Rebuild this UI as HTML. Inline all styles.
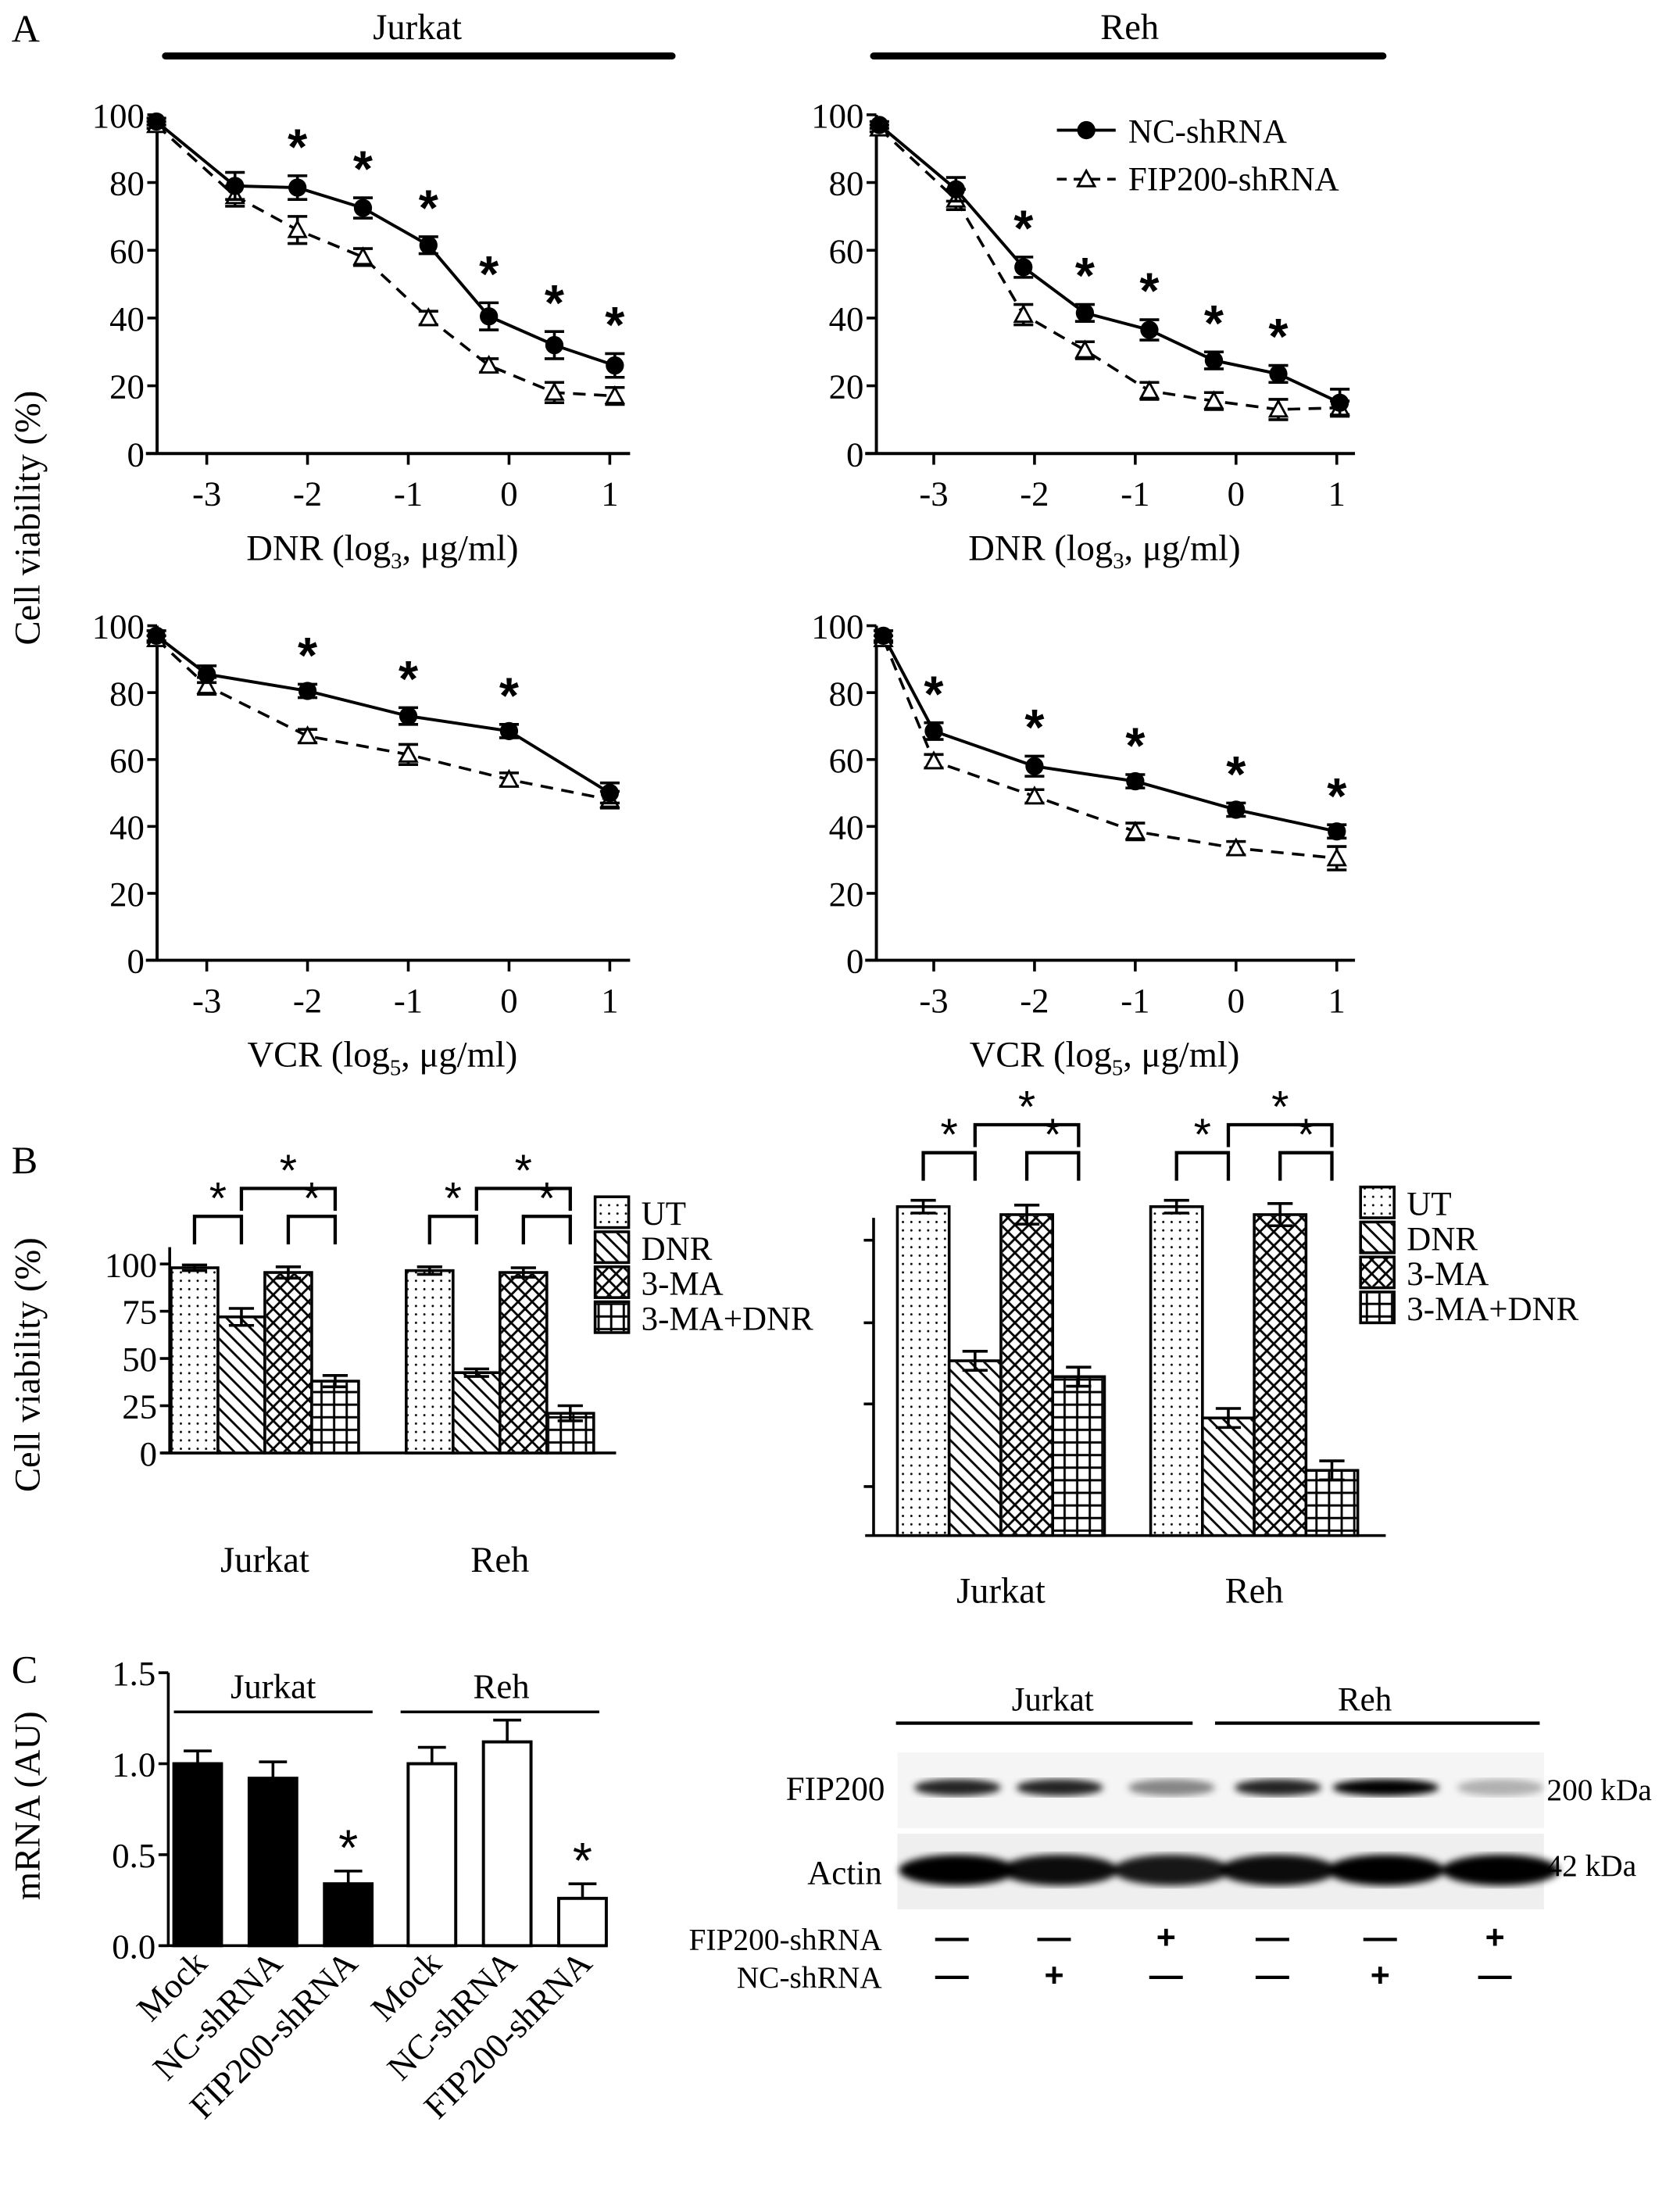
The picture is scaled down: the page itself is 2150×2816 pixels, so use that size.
<!DOCTYPE html>
<html><head><meta charset="utf-8">
<style>
html,body{margin:0;padding:0;background:#fff;}
svg{display:block;font-family:"Liberation Serif",serif;}
</style></head>
<body>
<svg id="fig" width="2150" height="2816" viewBox="0 0 1200 1572.4" xmlns="http://www.w3.org/2000/svg" font-family="Liberation Serif, serif">
<defs>
<pattern id="p-dots" width="6" height="6" patternUnits="userSpaceOnUse"><circle cx="3" cy="3" r="0.8" fill="#000"/></pattern>
<pattern id="p-diag" width="10" height="10" patternUnits="userSpaceOnUse"><path d="M-2,-2 L12,12 M-2,8 L2,12 M8,-2 L12,2" stroke="#000" stroke-width="1.6"/></pattern>
<pattern id="p-cross" width="10" height="10" patternUnits="userSpaceOnUse"><path d="M0,0 L10,10 M10,0 L0,10" stroke="#000" stroke-width="1.6"/></pattern>
<pattern id="p-grid" width="9" height="9" patternUnits="userSpaceOnUse"><path d="M4.5,0 V9 M0,4.5 H9" stroke="#000" stroke-width="1.6"/></pattern>
<filter id="blur"><feGaussianBlur stdDeviation="2.5"/></filter>
</defs>
<g id="root"></g>
</svg>
<script>
// ---------- Panel A data ----------
const aTLx = [-3.5,-2.72,-2.1,-1.45,-0.8,-0.2,0.45,1.05];
const aTLnc = [98,79,78.5,72.5,61.5,40.5,32,26];
const aTLncErr = [1,4,3.5,3,2.5,4,4,3.5];
const aTLfip = [97,76,66,58,40,26,18,17];
const aTLfipErr = [1,3,4,2.5,2,2,3,2.5];
const aTLstars = [2,3,4,5,6,7];

const aTRx = [-3.54,-2.78,-2.11,-1.5,-0.86,-0.22,0.42,1.03];
const aTRnc = [97,78,55,41.5,36.5,27.5,23.5,15];
const aTRncErr = [1,3.5,3,2.5,3,2.5,2.5,4];
const aTRfip = [96,75,41,30.5,18.5,15.5,13,13.5];
const aTRfipErr = [1,3,3,2.5,2.5,2.5,3,2];
const aTRstars = [2,3,4,5,6];

const aBLx = [-3.5,-3,-2,-1,0,1];
const aBLnc = [97,85.5,80.5,73,68.5,50];
const aBLncErr = [1.5,2.5,2,2.5,2,3];
const aBLfip = [96,82,67,61.5,54,48];
const aBLfipErr = [1,2.5,2,3,2,2.5];
const aBLstars = [2,3,4];

const aBRx = [-3.5,-3,-2,-1,0,1];
const aBRnc = [97,68.5,58,53.5,45,38.5];
const aBRncErr = [1.5,2.5,3,2,2,2];
const aBRfip = [96,59.5,49,38.5,33.5,30.5];
const aBRfipErr = [1,2,2,2.5,2,3.5];
const aBRstars = [1,2,3,4,5];

const aYTicks = [0,20,40,60,80,100];
const aXTicks = [-3,-2,-1,0,1];

// ---------- Panel B data ----------
const bGroups = ["Jurkat","Reh"];
const bSeries = ["UT","DNR","3-MA","3-MA+DNR"];
const bLeftJurkat = [98,72,95.5,38];
const bLeftJurkatErr = [1.5,4.5,3,3];
const bLeftReh = [96.5,42.5,95.5,21];
const bLeftRehErr = [2,2,2.5,4];
const bRightJurkat = [103.5,55,101,50];
const bRightJurkatErr = [2,3,3,3];
const bRightReh = [103.5,37,101,20.5];
const bRightRehErr = [2,3,3.5,3];
const bYTicks = [0,25,50,75,100];
const bYTickLabels = ["0","25","50","75","100"];

// ---------- Panel C data ----------
const cLabels = ["Mock","NC-shRNA","FIP200-shRNA","Mock","NC-shRNA","FIP200-shRNA"];
const cValues = [1.0,0.92,0.34,1.0,1.12,0.26];
const cErr = [0.07,0.09,0.07,0.09,0.12,0.08];
const cYTicks = [0,0.5,1.0,1.5];
const cYTickLabels = ["0.0","0.5","1.0","1.5"];
const wbFip200 = [0.85,0.85,0.45,0.85,1.0,0.28];
const wbActin = [1,0.95,0.9,0.95,1,1];
const wbFipShrna = ["—","—","+","—","—","+"];
const wbNcShrna = ["—","+","—","—","+","—"];

const NS="http://www.w3.org/2000/svg";
const root=document.getElementById('root');
function mk(tag,attrs,parent){const e=document.createElementNS(NS,tag);for(const k in attrs)e.setAttribute(k,attrs[k]);(parent||root).appendChild(e);return e;}
function txt(s,x,y,size,anchor,parent,extra){const t=mk('text',Object.assign({x:x,y:y,'font-size':size,'text-anchor':anchor||'middle','font-family':'Liberation Serif, serif',fill:'#000'},extra||{}),parent);t.textContent=s;return t;}

// Panel headers
let g=mk('g',{});


let t=txt('A',8,30,28,'start',g);


t=txt('Jurkat',298,28,26,'middle',g);


mk('line',{x1:118,y1:40,x2:480,y2:40,stroke:'#000','stroke-width':5,'stroke-linecap':'round'},g);
t=txt('Reh',807,28,26,'middle',g);


mk('line',{x1:624,y1:40,x2:988,y2:40,stroke:'#000','stroke-width':5,'stroke-linecap':'round'},g);

t=txt('Cell viability (%)',0,0,26,'middle',root,{transform:'translate(28,370) rotate(-90)'});



function linePanel(name,ax,x0,xUnit,yAxisX,xEnd,y0,y100,xs,nc,ncE,fip,fipE,stars,xlabel,sub){
  const pg=mk('g',{});
  
  
  const X=v=>x0+(v+3)*xUnit;
  const Y=v=>y0-(y0-y100)*v/100;
  mk('line',{x1:yAxisX,y1:y100,x2:yAxisX,y2:y0,stroke:'#000','stroke-width':2.2},pg);
  mk('line',{x1:yAxisX-8,y1:y0,x2:xEnd,y2:y0,stroke:'#000','stroke-width':2.2},pg);
  aYTicks.forEach(v=>{mk('line',{x1:yAxisX-7,y1:Y(v),x2:yAxisX,y2:Y(v),stroke:'#000','stroke-width':2},pg);
    const tl=txt(String(v),yAxisX-9,Y(v)+9,25,'end',pg);
    
    });
  aXTicks.forEach(v=>{mk('line',{x1:X(v),y1:y0,x2:X(v),y2:y0+8,stroke:'#000','stroke-width':2},pg);
    const tl=txt(String(v),X(v),y0+37,25,'middle',pg);
    
    });
  const xt=mk('text',{x:(yAxisX+xEnd)/2-8,y:y0+76,'font-size':26,'text-anchor':'middle','font-family':'Liberation Serif, serif'},pg);
  
  
  xt.innerHTML=xlabel+' (log<tspan font-size="16" dy="6">'+sub+'</tspan><tspan dy="-6">, μg/ml)</tspan>';
  const ptsF=xs.map((x,i)=>X(x)+','+Y(fip[i])).join(' ');
  const lf=mk('polyline',{points:ptsF,fill:'none',stroke:'#000','stroke-width':2,'stroke-dasharray':'9,6'},pg);
  
  
  const ptsN=xs.map((x,i)=>X(x)+','+Y(nc[i])).join(' ');
  const ln=mk('polyline',{points:ptsN,fill:'none',stroke:'#000','stroke-width':2.2},pg);
  
  
  function eb(x,y,e){const a=Y(y+e),b=Y(y-e);mk('line',{x1:X(x),y1:a,x2:X(x),y2:b,stroke:'#000','stroke-width':2},pg);
    mk('line',{x1:X(x)-7,y1:a,x2:X(x)+7,y2:a,stroke:'#000','stroke-width':2},pg);
    mk('line',{x1:X(x)-7,y1:b,x2:X(x)+7,y2:b,stroke:'#000','stroke-width':2},pg);}
  xs.forEach((x,i)=>{eb(x,fip[i],fipE[i]);
    const cx=X(x),cy=Y(fip[i]);
    const tr=mk('polygon',{points:`${cx},${cy-6} ${cx-6},${cy+5} ${cx+6},${cy+5}`,fill:'#fff',stroke:'#000','stroke-width':1.6},pg);
    
    });
  xs.forEach((x,i)=>{eb(x,nc[i],ncE[i]);
    const c=mk('circle',{cx:X(x),cy:Y(nc[i]),r:6.5,fill:'#000'},pg);
    
    });
  stars.forEach(i=>{const s=txt('*',X(xs[i]),Y(nc[i]+ncE[i])-8,36,'middle',pg,{'font-family':'Liberation Sans, sans-serif','font-weight':'bold'});
    
    });
}
linePanel('jurkat-dnr-chart','TL',147.5,72,112,450,324,82,aTLx,aTLnc,aTLncErr,aTLfip,aTLfipErr,aTLstars,'DNR','3');
linePanel('reh-dnr-chart','TR',667,72,626,968,324,82,aTRx,aTRnc,aTRncErr,aTRfip,aTRfipErr,aTRstars,'DNR','3');
linePanel('jurkat-vcr-chart','BL',147.5,72,112,450,686,447,aBLx,aBLnc,aBLncErr,aBLfip,aBLfipErr,aBLstars,'VCR','5');
linePanel('reh-vcr-chart','BR',667,72,626,968,686,447,aBRx,aBRnc,aBRncErr,aBRfip,aBRfipErr,aBRstars,'VCR','5');

// legend A
g=mk('g',{});


mk('line',{x1:755,y1:93,x2:797,y2:93,stroke:'#000','stroke-width':2.2},g);
mk('circle',{cx:776,cy:93,r:6.5,fill:'#000'},g);
t=txt('NC-shRNA',806,102,24,'start',g);


mk('line',{x1:755,y1:128,x2:797,y2:128,stroke:'#000','stroke-width':2,'stroke-dasharray':'7,5'},g);
mk('polygon',{points:'776,122 770,133 782,133',fill:'#fff',stroke:'#000','stroke-width':1.6},g);
t=txt('FIP200-shRNA',806,136,24,'start',g);



// ---------- Panel B ----------
t=txt('B',8,838,28,'start');


t=txt('Cell viability (%)',0,0,26,'middle',root,{transform:'translate(28,975) rotate(-90)'});


const fills=['url(#p-dots)','url(#p-diag)','url(#p-cross)','url(#p-grid)'];
function barPanel(name,axisX,xEnd,base,y100,starts,bw,dataSets,errSets,showLabels,tickYs,legendX,legendY,labelGap){
  const pg=mk('g',{});
  
  
  const Y=v=>base-(base-y100)*v/100;
  mk('line',{x1:axisX,y1:showLabels?y100-12:tickYs[0]-16,x2:axisX,y2:base,stroke:'#000','stroke-width':2},pg);
  mk('line',{x1:axisX-6,y1:base,x2:xEnd,y2:base,stroke:'#000','stroke-width':2},pg);
  if(showLabels){bYTicks.forEach((v,i)=>{mk('line',{x1:axisX-7,y1:Y(v),x2:axisX,y2:Y(v),stroke:'#000','stroke-width':2},pg);
    const tl=txt(bYTickLabels[i],axisX-9,Y(v)+9,25,'end',pg);
    
    });}
  else{tickYs.forEach(y=>mk('line',{x1:axisX-7,y1:y,x2:axisX,y2:y,stroke:'#000','stroke-width':2},pg));}
  dataSets.forEach((vals,gi)=>{
    const sx=starts[gi];
    vals.forEach((v,si)=>{
      const x=sx+si*bw;
      const r=mk('rect',{x:x,y:Y(v),width:bw,height:base-Y(v),fill:'#fff',stroke:'#000','stroke-width':2},pg);
      
      
      mk('rect',{x:x+1,y:Y(v)+1,width:bw-2,height:base-Y(v)-2,fill:fills[si]},pg);
      const e=errSets[gi][si],cx=x+bw/2;
      mk('line',{x1:cx,y1:Y(v+e),x2:cx,y2:Y(v-e),stroke:'#000','stroke-width':2},pg);
      mk('line',{x1:cx-9,y1:Y(v+e),x2:cx+9,y2:Y(v+e),stroke:'#000','stroke-width':2},pg);
      mk('line',{x1:cx-9,y1:Y(v-e),x2:cx+9,y2:Y(v-e),stroke:'#000','stroke-width':2},pg);
    });
    const c=i=>sx+i*bw+bw/2;
    const top=Math.min(...vals.map((v,i)=>Y(v+errSets[gi][i])));
    const lowY=Math.min(top,y100)-34, upY=lowY-20;
    function br(a,b,y,h){mk('path',{d:`M${c(a)},${y+h} V${y} H${c(b)} V${y+h}`,fill:'none',stroke:'#000','stroke-width':2.4},pg);
      const s=txt('*',(c(a)+c(b))/2,y-2,32,'middle',pg,{'font-family':'Liberation Sans, sans-serif'});
      
      }
    br(0,1,lowY,20);br(2,3,lowY,20);br(1,3,upY,16);
    const gl=txt(bGroups[gi],sx+2*bw,base+labelGap,26,'middle',pg);
    
    
  });
  bSeries.forEach((s,i)=>{
    const ly=legendY+i*25;
    const lr=mk('rect',{x:legendX,y:ly,width:24,height:22,fill:'#fff',stroke:'#000','stroke-width':2},pg);
    
    
    mk('rect',{x:legendX+1,y:ly+1,width:22,height:20,fill:fills[i]},pg);
    const lt=txt(s,legendX+33,ly+20,24,'start',pg);
    
    
  });
}
barPanel('panel-b-left-chart',121,440,1038,903,[122,290],33.5,[bLeftJurkat,bLeftReh],[bLeftJurkatErr,bLeftRehErr],true,[],425,855,85);
barPanel('panel-b-right-chart',624,990,1097,870,[641,822],37,[bRightJurkat,bRightReh],[bRightJurkatErr,bRightRehErr],false,[886,945,1003,1062],972,848,48);

// ---------- Panel C ----------
t=txt('C',8,1202,28,'start');


t=txt('mRNA (AU)',0,0,26,'middle',root,{transform:'translate(28,1290) rotate(-90)'});


(function(){
  const pg=mk('g',{});
  
  
  const base=1390,top15=1195,axisX=120;
  const Y=v=>base-(base-top15)*v/1.5;
  mk('line',{x1:axisX,y1:top15,x2:axisX,y2:base,stroke:'#000','stroke-width':2},pg);
  mk('line',{x1:axisX-6,y1:base,x2:432,y2:base,stroke:'#000','stroke-width':2},pg);
  cYTicks.forEach((v,i)=>{mk('line',{x1:axisX-7,y1:Y(v),x2:axisX,y2:Y(v),stroke:'#000','stroke-width':2},pg);
    const tl=txt(cYTickLabels[i],axisX-9,Y(v)+9,25,'end',pg);
    
    });
  const step=53.8, x0=141;
  cValues.forEach((v,i)=>{
    const cx=x0+i*step+(i>=3?6:0);
    const e=cErr[i];
    mk('line',{x1:cx,y1:Y(v+e),x2:cx,y2:Y(v),stroke:'#000','stroke-width':2},pg);
    mk('line',{x1:cx-10,y1:Y(v+e),x2:cx+10,y2:Y(v+e),stroke:'#000','stroke-width':2},pg);
    const r=mk('rect',{x:cx-17,y:Y(v),width:34,height:base-Y(v),fill:i<3?'#000':'#fff',stroke:'#000','stroke-width':2.2},pg);
    
    
    const lab=txt(cLabels[i],0,0,25,'end',pg,{transform:`translate(${cx+8},${base+14}) rotate(-45)`});
    
    
    if(i===2||i===5){const s=txt('*',cx,Y(v+e)-4,36,'middle',pg,{'font-family':'Liberation Sans, sans-serif'});
      
      }
  });
  mk('line',{x1:124,y1:1223,x2:266,y2:1223,stroke:'#000','stroke-width':2},pg);
  t=txt('Jurkat',195,1213,25,'middle',pg);
  
  
  mk('line',{x1:286,y1:1223,x2:428,y2:1223,stroke:'#000','stroke-width':2},pg);
  t=txt('Reh',358,1213,25,'middle',pg);
  
  
})();

// Western blot
(function(){
  const pg=mk('g',{});
  
  
  const lanes=[684,757,837,913,990,1072];
  t=txt('Jurkat',752,1222,24,'middle',pg);
  
  
  mk('line',{x1:640,y1:1231,x2:852,y2:1231,stroke:'#000','stroke-width':2.4},pg);
  t=txt('Reh',975,1222,24,'middle',pg);
  
  
  mk('line',{x1:868,y1:1231,x2:1100,y2:1231,stroke:'#000','stroke-width':2.4},pg);
  mk('rect',{x:641,y:1252,width:462,height:54,fill:'#f5f5f5'},pg);
  mk('rect',{x:641,y:1310,width:462,height:54,fill:'#efefef'},pg);
  const bandsF=mk('g',{filter:'url(#blur)'},pg);
  
  
  wbFip200.forEach((v,i)=>{const w=i===4?76:62;mk('ellipse',{cx:lanes[i],cy:1277,rx:w/2,ry:6,fill:'#000','fill-opacity':v},bandsF);});
  const bandsA=mk('g',{filter:'url(#blur)'},pg);
  
  
  wbActin.forEach((v,i)=>{mk('ellipse',{cx:lanes[i],cy:1336,rx:42,ry:11,fill:'#000','fill-opacity':v},bandsA);});
  t=txt('FIP200',632,1286,24,'end',pg);
  
  
  t=txt('Actin',630,1346,24,'end',pg);
  
  
  t=txt('200 kDa',1105,1286,22,'start',pg);
  
  
  t=txt('42 kDa',1105,1340,22,'start',pg);
  
  
  t=txt('FIP200-shRNA',630,1393,22,'end',pg);
  
  
  t=txt('NC-shRNA',630,1420,22,'end',pg);
  
  
  lanes.forEach((x,i)=>{
    const a=txt(wbFipShrna[i],x-4,1392,24,'middle',pg,{'font-family':'Liberation Sans, sans-serif','font-weight':'bold'});
    
    
    const b=txt(wbNcShrna[i],x-4,1419,24,'middle',pg,{'font-family':'Liberation Sans, sans-serif','font-weight':'bold'});
    
    
  });
})();
</script>
</body></html>
